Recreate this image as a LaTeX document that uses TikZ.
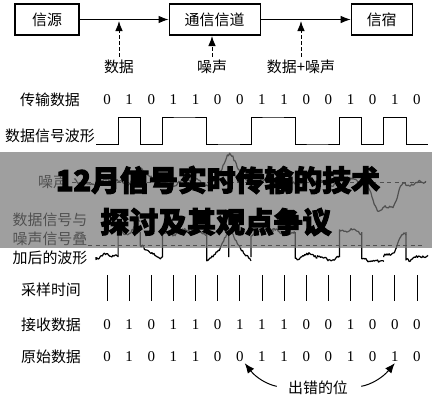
\documentclass[tikz,border=0pt]{standalone}
\usepackage{fontspec}
\setmainfont{Liberation Serif}
\newfontfamily\cjk{Noto Sans CJK SC}
\newfontfamily\cjktitle{Noto Sans CJK SC}[BoldFeatures={FakeBold=3.5}]
\usetikzlibrary{positioning,arrows.meta}
\definecolor{bandgray}{RGB}{117,117,117}

\begin{document}
\begin{tikzpicture}[
  x=1bp, y=-1bp,
  font=\cjk\fontsize{15}{19}\selectfont,
  declare function={
    noise(\x)=-14*exp(-min(9,((\x-140)/7)^2))-24*exp(-min(9,((\x-230)/11)^2))
      +28*exp(-min(3,((\x-385)/14)^2)^2)+2.5*sin(9*\x)+1.5*sin(23*\x+40);
  },
  box/.style={draw, line width=1.1bp, minimum height=31bp, inner sep=0pt},
  arrow/.style={-{Latex[length=10bp,width=7.5bp]}, line width=0.9bp},
  dasharrow/.style={arrow, dash pattern=on 3.5bp off 2.5bp},
  bit/.style={font=\rmfamily\fontsize{15}{18}\selectfont, inner sep=1bp},
  wave/.style={line width=0.9bp},
  noisewave/.style={line width=1.2bp, line join=round},
  level/.style={dash pattern=on 4bp off 3.5bp, line width=0.6bp},
  tick/.style={line width=0.9bp},
  errarrow/.style={-{Latex[length=10bp,width=8bp]}, line width=1bp},
  title/.style={font=\cjktitle\bfseries\fontsize{29}{35}\selectfont, inner sep=0pt}
]
\useasboundingbox (0,0) rectangle (432,400);
\fill[white] (0,0) rectangle (432,400);
\pgfmathsetseed{7}

% source -> channel -> sink
\node[box, minimum width=64bp] (src) at (47,19.5) {信源};
\node[box, minimum width=91bp, right=89bp of src] (chan) {通信信道};
\node[box, minimum width=61bp, right=90bp of chan] (dst) {信宿};
\draw[arrow] (src) -- (chan);
\draw[arrow] (chan) -- (dst);

\node (lblData) at (119,67) {数据};
\node (lblNoise) at (212,67) {噪声};
\node (lblMix) at (301,67) {数据+噪声};
\coordinate (dataIn) at (119,21);
\coordinate (noiseIn) at (212,36);
\coordinate (mixIn) at (301,21);
\draw[dasharrow] (lblData) -- (dataIn);
\draw[dasharrow] (lblNoise) -- (noiseIn);
\draw[dasharrow] (lblMix) -- (mixIn);

% row labels
\node (rowTx) at (50,100) {传输数据};
\node (rowWave) at (50,136) {数据信号波形};
\node (rowNoise) at (53,182) {噪声};
\node[align=center] (rowSum) at (50,239) {数据信号与\\噪声信号叠\\加后的波形};
\node (rowSample) at (51,290) {采样时间};
\node (rowRx) at (51,325) {接收数据};
\node (rowOrig) at (51,357) {原始数据};

% bits
\foreach \b [count=\i] in {0,1,0,1,1,0,0,1,1,0,0,1,0,1,0}
  \node[bit] (tx\i) at ({107+22.14*(\i-1)},100) {\b};
\foreach \b [count=\i] in {0,1,0,1,1,0,1,1,1,0,0,1,0,0,0}
  \node[bit] (rx\i) at ({107+22.14*(\i-1)},325) {\b};
\foreach \b [count=\i] in {0,1,0,1,1,0,0,1,1,0,0,1,0,1,0}
  \node[bit] (orig\i) at ({107+22.14*(\i-1)},357) {\b};

% data waveform
\draw[wave] (96,144) \foreach \b [count=\i] in {0,1,0,1,1,0,0,1,1,0,0,1,0,1,0} {
  -- ({96+22.14*(\i-1)},{144-27*\b}) -- ({96+22.14*\i},{144-27*\b}) };

% noise and noisy waveform
\draw[level] (72,182) -- (425,182);
\draw[noisewave] plot[domain=74:426, samples=320] (\x,{182+noise(\x)+1.3*rand});
\draw[level] (88,245) -- (425,245);
\foreach \b [count=\i, remember=\b as \pb (initially 0)] in {0,1,0,1,1,0,0,1,1,0,0,1,0,1,0} {
  \pgfmathsetmacro\xa{96+22.14*(\i-1)}
  \pgfmathsetmacro\xb{96+22.14*\i}
  \draw[noisewave] (\xa,{257-25*\pb}) -- plot[domain=\xa:\xb, samples=22]
    (\x,{min(261,257-25*\b+0.9*noise(\x))+1.3*rand});
}

% sampling instants
\foreach \i in {1,...,15}
  \draw[tick] ({107+22.14*(\i-1)},275) -- ++(0,26);

% wrong bits
\node (errLbl) at (318,388) {出错的位};
\draw[errarrow, shorten <=8bp] (errLbl.west) to[bend left=20] (orig7.south east);
\draw[errarrow, shorten <=10bp] (errLbl.east) to[bend right=20] (orig14.south);

% overlay band
\fill[bandgray, opacity=0.69] (0,152) rectangle (432,248);
\node[title] (title1) at (218,180) {12月信号实时传输的技术};
\node[title] (title2) at (216,222) {探讨及其观点争议};
\end{tikzpicture}
\end{document}
